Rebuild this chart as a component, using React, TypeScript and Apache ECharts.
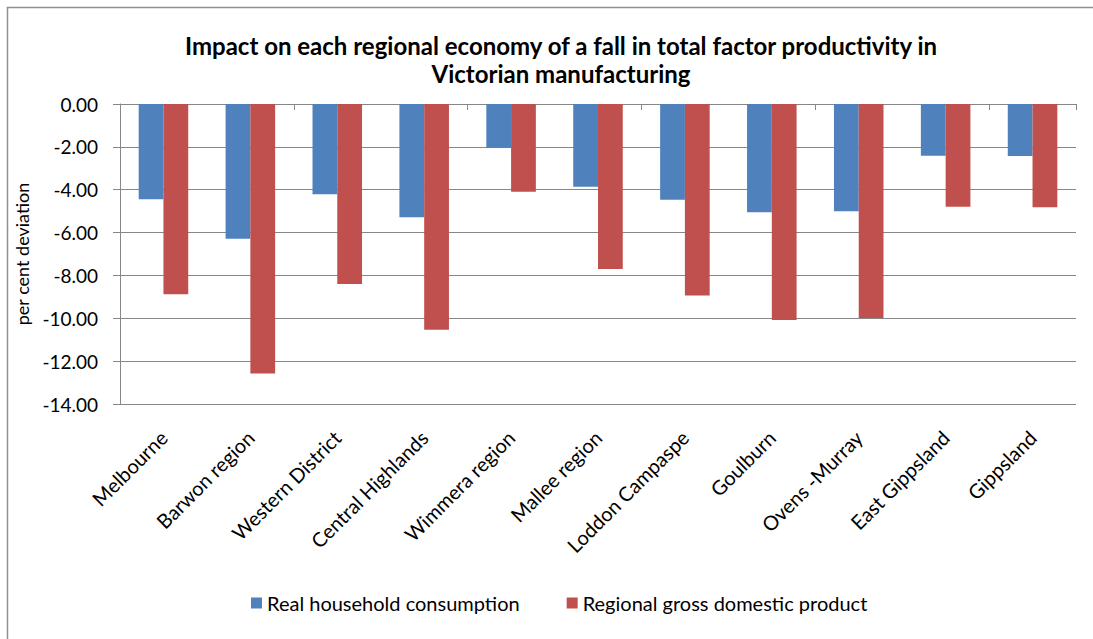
import React, { useEffect, useRef } from "react";
import * as echarts from "echarts";

const categories = [
  "Melbourne",
  "Barwon region",
  "Western District",
  "Central Highlands",
  "Wimmera region",
  "Mallee region",
  "Loddon Campaspe",
  "Goulburn",
  "Ovens -Murray",
  "East Gippsland",
  "Gippsland",
];
const householdConsumption = [-4.44, -6.29, -4.21, -5.28, -2.04, -3.86, -4.47, -5.05, -5.0, -2.41, -2.43];
const regionalGdp = [-8.88, -12.58, -8.4, -10.53, -4.1, -7.7, -8.94, -10.08, -9.99, -4.8, -4.82];
const seriesNames = ["Real household consumption", "Regional gross domestic product"];
const titleLines = [
  "Impact on each regional economy of a fall in total factor productivity in",
  "Victorian manufacturing",
];
const yAxisName = "per cent deviation";

const FONT = "Lato, 'Open Sans', sans-serif";
const AXIS_GRAY = "#878787";

export default function App() {
  const ref = useRef<HTMLDivElement>(null);
  useEffect(() => {
    const chart = echarts.init(ref.current!, null, { renderer: "svg" });
    chart.setOption({
      animation: false,
      backgroundColor: "#ffffff",
      title: {
        text: titleLines.join("\n"),
        left: 556,
        textAlign: "center",
        top: 26,
        textStyle: {
          fontFamily: FONT,
          fontWeight: "bold",
          fontSize: 24,
          lineHeight: 28,
          color: "#000",
        },
      },
      graphic: [
        {
          type: "rect",
          shape: { x: 7.5, y: 7.5, width: 1200, height: 800 },
          style: { fill: "none", stroke: "#8f8f8f", lineWidth: 1.5 },
          silent: true,
        },
      ],
      legend: {
        left: 246,
        top: 588,
        icon: "rect",
        itemWidth: 11,
        itemHeight: 11,
        itemGap: 47,
        textStyle: { fontFamily: FONT, fontSize: 20, color: "#000" },
        data: seriesNames,
      },
      grid: { left: 120, right: 17, top: 104, height: 300 },
      xAxis: [
        {
          type: "category",
          data: categories,
          position: "top",
          axisLine: { show: true, onZero: false, lineStyle: { color: AXIS_GRAY, width: 1 } },
          axisTick: { show: true, inside: true, length: 6, lineStyle: { color: AXIS_GRAY } },
          axisLabel: { show: false },
          splitLine: { show: false },
        },
        {
          type: "category",
          data: categories,
          position: "bottom",
          axisLine: { show: false },
          axisTick: { show: false },
          axisLabel: {
            rotate: 45,
            margin: 30,
            interval: 0,
            fontFamily: FONT,
            fontSize: 20,
            color: "#000",
          },
          splitLine: { show: false },
        },
      ],
      yAxis: {
        type: "value",
        min: -14,
        max: 0,
        interval: 2,
        name: yAxisName,
        nameLocation: "middle",
        nameRotate: 90,
        nameGap: 84,
        nameTextStyle: { fontFamily: FONT, fontSize: 18, color: "#000" },
        axisLine: { show: true, lineStyle: { color: AXIS_GRAY, width: 1 } },
        axisTick: { show: true, length: 7, lineStyle: { color: AXIS_GRAY } },
        axisLabel: {
          margin: 22,
          fontFamily: FONT,
          fontSize: 19,
          color: "#000",
          formatter: (v: number) => v.toFixed(2),
        },
        splitLine: { show: true, lineStyle: { color: AXIS_GRAY, width: 1 } },
      },
      series: [
        {
          name: seriesNames[0],
          type: "bar",
          data: householdConsumption,
          xAxisIndex: 0,
          barGap: "0%",
          barCategoryGap: "43%",
          itemStyle: { color: "#4F81BD" },
        },
        {
          name: seriesNames[1],
          type: "bar",
          data: regionalGdp,
          xAxisIndex: 0,
          barGap: "0%",
          barCategoryGap: "43%",
          itemStyle: { color: "#C0504D" },
        },
      ],
    });
    return () => chart.dispose();
  }, []);
  return (
    <div
      ref={ref}
      style={{ position: "fixed", left: 0, top: 0, width: 1093, height: 639, background: "#fff" }}
    />
  );
}
